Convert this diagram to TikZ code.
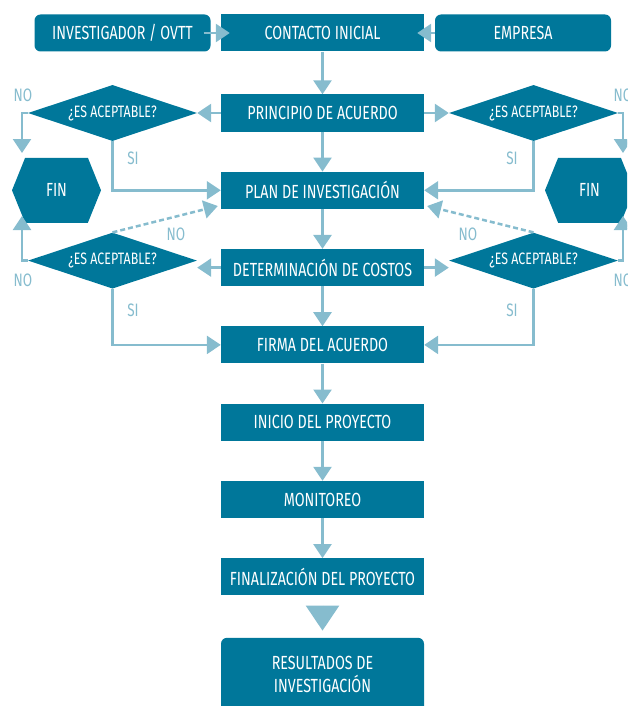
\documentclass[tikz,border=0pt]{standalone}
\usepackage{fontspec}
\setmainfont{Fira Sans}[FakeStretch=0.75]
\usetikzlibrary{arrows.meta,positioning,shapes.geometric,shapes.symbols}
\definecolor{boxteal}{RGB}{0,119,154}
\definecolor{flowblue}{RGB}{134,188,206}
\tikzset{
  paso/.style={rectangle, fill=boxteal, text=white, minimum width=203pt, minimum height=37pt,
    inner sep=0pt, font=\fontsize{19}{23}\selectfont},
  externo/.style={paso, rounded corners=6pt, minimum width=176pt},
  pregunta/.style={diamond, aspect=3, fill=boxteal, text=white, minimum width=169pt,
    minimum height=56pt, inner sep=0pt, font=\fontsize{16.5}{19}\selectfont},
  fin/.style={signal, signal to=east and west, signal pointer angle=136, fill=boxteal,
    text=white, minimum width=89pt, minimum height=65pt, inner sep=0pt,
    font=\fontsize{19}{23}\selectfont},
  flow/.style={draw=flowblue, line width=2.5pt, -{Triangle[length=14pt,width=18pt]}},
  etiq/.style={text=flowblue, font=\fontsize{18}{21}\selectfont}
}
\begin{document}
\begin{tikzpicture}[x=1pt, y=-1pt, node distance=77.3pt, on grid]
  \useasboundingbox (0,0) rectangle (627,706);
  \clip (0,0) rectangle (627,706);
  % columna central
  \node[paso] (contacto) at (322.5,33) {CONTACTO INICIAL};
  \node[paso, below=80pt of contacto] (principio) {PRINCIPIO DE ACUERDO};
  \node[paso, below=of principio] (plan) {PLAN DE INVESTIGACIÓN};
  \node[paso, below=of plan] (costos) {DETERMINACIÓN DE COSTOS};
  \node[paso, below=of costos] (firma) {FIRMA DEL ACUERDO};
  \node[paso, below=of firma] (inicio) {INICIO DEL PROYECTO};
  \node[paso, below=of inicio] (monitoreo) {MONITOREO};
  \node[paso, below=of monitoreo] (final) {FINALIZACIÓN DEL PROYECTO};
  \node[paso, rounded corners=6pt, minimum height=74pt, align=center, below=98pt of final]
    (resultados) {RESULTADOS DE\\INVESTIGACIÓN};
  % origen
  \node[externo, left=200pt of contacto] (investigador) {INVESTIGADOR / OVTT};
  \node[externo, right=200.5pt of contacto] (empresa) {EMPRESA};
  % decisiones
  \node[pregunta, left=210pt of principio] (dl1) {¿ES ACEPTABLE?};
  \node[pregunta, right=211pt of principio] (dr1) {¿ES ACEPTABLE?};
  \node[pregunta, left=210pt of costos, yshift=7pt] (dl2) {¿ES ACEPTABLE?};
  \node[pregunta, right=211pt of costos, yshift=7pt] (dr2) {¿ES ACEPTABLE?};
  \node[fin, left=266pt of plan] (finl) {FIN};
  \node[fin, right=267pt of plan] (finr) {FIN};
  \coordinate (nl1) at (22,153);
  \coordinate (nl2) at (22,216);
  \coordinate (nr1) at (623,153);
  \coordinate (nr2) at (623,216);

  \draw[flow, shorten <=-7pt, shorten >=-9pt] (investigador) -- (contacto);
  \draw[flow, shorten >=-7pt] (empresa) -- (contacto);
  \foreach \a/\b in {contacto/principio, principio/plan, plan/costos, costos/firma,
                     firma/inicio, inicio/monitoreo, monitoreo/final}
    \draw[flow] (\a) -- (\b);
  \draw[flow, -{Triangle[length=25pt,width=33pt]}, shorten <=10pt, shorten >=7pt]
    (final) -- (resultados);

  % lado izquierdo
  \draw[flow] (principio) -- (dl1);
  \draw[flow] (costos.west) -- (dl2.east |- costos.west);
  \draw[flow] (dl1.west) -| (nl1);
  \draw[flow] (dl2.west) -| (nl2);
  \draw[flow] (dl1.south) |- (plan.west);
  \draw[flow] (dl2.south) |- (firma.west);
  \draw[flow, dash pattern=on 5pt off 3pt] (dl2.north) -- ([shift={(-3,-3)}]plan.south west);
  % lado derecho
  \draw[flow] (principio) -- (dr1);
  \draw[flow] (costos.east) -- (dr2.west |- costos.east);
  \draw[flow] (dr1.east) -| (nr1);
  \draw[flow] (dr2.east) -| (nr2);
  \draw[flow] (dr1.south) |- (plan.east);
  \draw[flow] (dr2.south) |- (firma.east);
  \draw[flow, dash pattern=on 5pt off 3pt] (dr2.north) -- ([shift={(3,-3)}]plan.south east);

  % etiquetas
  \node[etiq] (no1) at (23,95) {NO};
  \node[etiq] (no2) at (23,280) {NO};
  \node[etiq] (no3) at (176,234) {NO};
  \node[etiq] (no4) at (623,95) {NO};
  \node[etiq] (no5) at (623,280) {NO};
  \node[etiq] (no6) at (468,234) {NO};
  \node[etiq] (si1) at (133,158) {SI};
  \node[etiq] (si2) at (133,310) {SI};
  \node[etiq] (si3) at (512,158) {SI};
  \node[etiq] (si4) at (512,310) {SI};
\end{tikzpicture}
\end{document}
